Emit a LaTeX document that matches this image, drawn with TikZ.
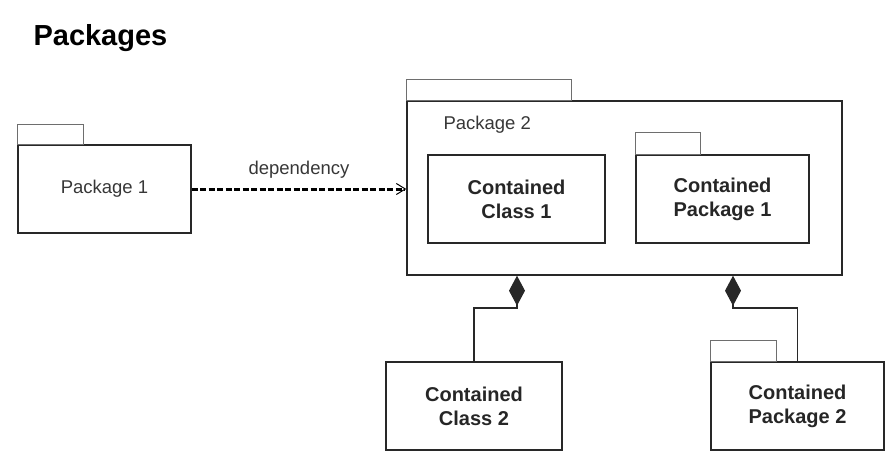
\documentclass[tikz,border=0pt]{standalone}
\usepackage{fontspec}
\setmainfont{Liberation Sans}
\usetikzlibrary{positioning,arrows.meta}
\definecolor{labelColor}{RGB}{55,55,55}
\definecolor{lineColor}{RGB}{40,40,40}
\definecolor{tabColor}{RGB}{110,110,110}
\tikzstyle{diagram} = [x = 1pt, y = -1pt]
\tikzstyle{boxStyle} = [draw=lineColor, line width=1.2pt, rectangle, align=center, inner sep=0pt]
\tikzstyle{tabLine} = [draw=tabColor, line width=1pt]
\tikzstyle{labelText} = [text=labelColor, font=\fontsize{18.5}{22}\selectfont]
\tikzstyle{boldText} = [text=black!85, font=\fontsize{20}{24}\selectfont\bfseries]
\tikzstyle{titleText} = [text=black, font=\fontsize{29}{33}\selectfont\bfseries]
\tikzstyle{dependencyLine} = [line width=3pt, dash pattern=on 6pt off 2.5pt, color=black, -{Straight Barb[length=9pt, width=11pt, line width=1pt]}]
\tikzstyle{composition} = [line width=1.2pt, color=lineColor, -{Diamond[length=30pt, width=16pt]}]
\newcommand{\umlBox}[6]{\node [boxStyle, #6, minimum width=#4pt, minimum height=#5pt] (#1) at (#2) {#3};}
\newcommand{\packageTab}[3]{\draw [tabLine] (#1.north west) rectangle + (#2, -#3);}

\begin{document}
\begin{tikzpicture}[diagram]
  \useasboundingbox (0,0) rectangle (894,468);
  \node [titleText, anchor=base west] (title) at (30,46) {Packages};

  % outer packages
  \umlBox{pkgOne}{104.5,189}{Package 1}{173}{88}{labelText}
  \packageTab{pkgOne}{66}{20}

  \umlBox{pkgTwo}{624.5,188}{}{435}{174}{line width=1.4pt}
  \packageTab{pkgTwo}{165}{21}
  \node [labelText, anchor=base west] (pkgTwoLabel) at (440,130) {Package 2};

  % contents of package 2
  \umlBox{classOne}{516.5,199}{Contained\\Class 1}{177}{88}{boldText}
  \umlBox{subPkgOne}{722.5,199}{Contained\\Package 1}{173}{88}{boldText}
  \packageTab{subPkgOne}{65}{22}

  % parts below
  \umlBox{classTwo}{474,406}{Contained\\Class 2}{176}{88}{boldText}
  \umlBox{subPkgTwo}{797.5,406}{Contained\\Package 2}{173}{88}{boldText}
  \packageTab{subPkgTwo}{66}{21}

  % connectors
  \draw [dependencyLine] (pkgOne.east) -- (pkgOne.east -| pkgTwo.west)
    node [labelText, midway, above=6pt] (depLabel) {dependency};

  \coordinate (bendOne) at (517,308);
  \coordinate (bendTwo) at (733,308);
  \draw [composition] (classTwo.north) |- (bendOne) -- (bendOne |- pkgTwo.south);
  \draw [composition] (subPkgTwo.north) |- (bendTwo) -- (bendTwo |- pkgTwo.south);
\end{tikzpicture}
\end{document}
